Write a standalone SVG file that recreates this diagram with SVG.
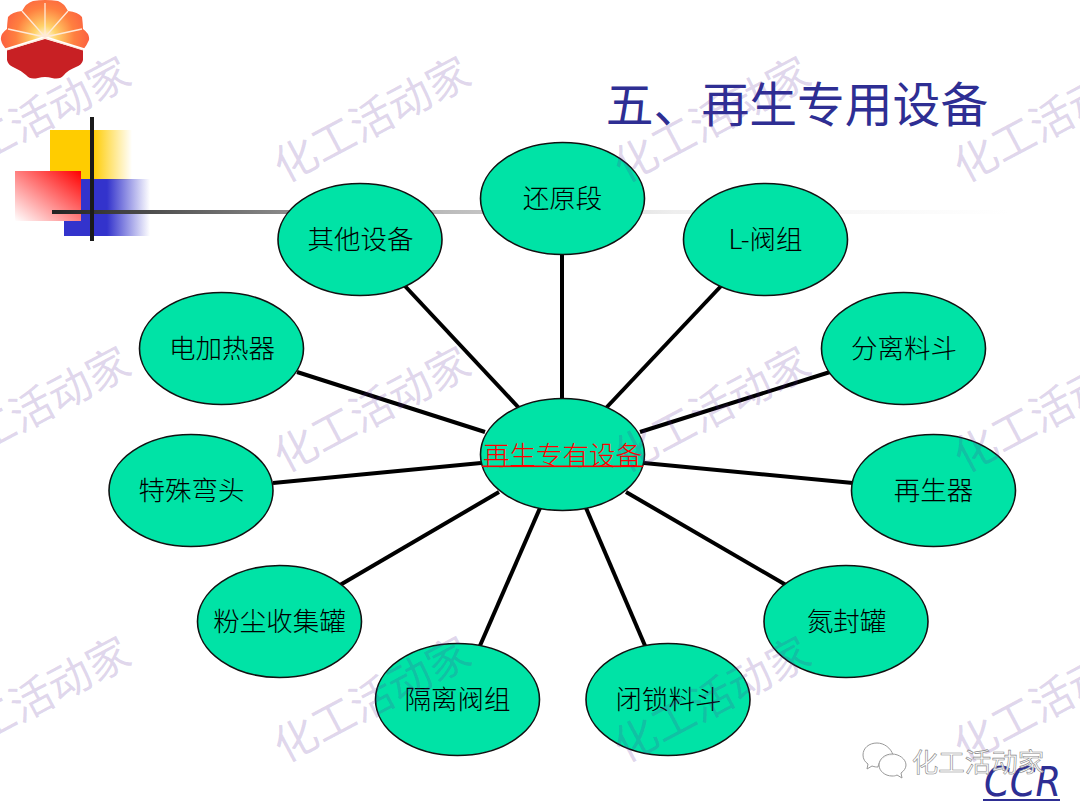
<svg xmlns="http://www.w3.org/2000/svg" width="1080" height="810" viewBox="0 0 1080 810">
<style>
.zh{font-family:"Noto Sans CJK SC","Liberation Serif",serif}
.n ellipse{fill:#00e3a6;stroke:#111;stroke-width:1.6}
.n text{font-family:"Noto Sans CJK SC",sans-serif;font-weight:300;font-size:26.5px;fill:#000;text-anchor:middle}
.c line{stroke:#000;stroke-width:4}
.wm text{font-family:"Noto Sans CJK SC",sans-serif;font-weight:400;font-size:43px;fill:#5d2e9e;fill-opacity:.2;text-anchor:middle}
</style>
<defs>
<linearGradient id="gy"><stop offset="0" stop-color="#ffcc00"/><stop offset=".52" stop-color="#ffcc00"/><stop offset="1" stop-color="#ffcc00" stop-opacity="0"/></linearGradient>
<linearGradient id="gb"><stop offset="0" stop-color="#3333cc"/><stop offset=".5" stop-color="#3333cc"/><stop offset="1" stop-color="#3333cc" stop-opacity="0"/></linearGradient>
<linearGradient id="gr" x1="1" y1="0" x2="0" y2="1"><stop offset="0" stop-color="#ff0000"/><stop offset="1" stop-color="#ffffff"/></linearGradient>
<linearGradient id="gl"><stop offset="0" stop-color="#222"/><stop offset=".08" stop-color="#444"/><stop offset=".24" stop-color="#888"/><stop offset=".41" stop-color="#bbb"/><stop offset=".65" stop-color="#eee"/><stop offset="1" stop-color="#fff"/></linearGradient>
<radialGradient id="sun" gradientUnits="userSpaceOnUse" cx="45" cy="37" r="45"><stop offset="0" stop-color="#fffbe8"/><stop offset=".25" stop-color="#ffd36a"/><stop offset=".65" stop-color="#ff8040"/><stop offset="1" stop-color="#fb5f40"/></radialGradient>
<clipPath id="top"><path d="M0 0H90V50L45 36L0 50Z"/></clipPath>
<clipPath id="bot"><path d="M0 52L45 39L90 52V90H0Z"/></clipPath>
<path id="logo" d="M33 1Q45 -1 58 1Q64 3 68 11Q78 12 82 17Q83 25 83 29Q90 34 89 40Q87 45 83 50L83 60Q82 65 76 67Q68 70 64 75Q60 80 52 78Q45 76 38 78Q30 80 26 75Q20 70 13 67Q8 65 7 60L7 50Q2 45 1 40Q0 34 7 29Q7 25 8 17Q12 12 22 11Q26 3 33 1Z"/>
</defs>

<g id="logo-mark">
<use href="#logo" fill="url(#sun)" clip-path="url(#top)"/>
<use href="#logo" fill="#c82024" clip-path="url(#bot)"/>
<g stroke="#ffe9d8" stroke-width="1.3" fill="none">
<path d="M45 37V3M45 37L22 11M45 37L68 11M45 37L8 29M45 37L82 29M45 38L7 50M45 38L83 50"/>
</g>
</g>

<g id="decor">
<rect x="50" y="130" width="82" height="50" fill="url(#gy)"/>
<rect x="64" y="179" width="86" height="57" fill="url(#gb)"/>
<rect x="15" y="171" width="66" height="50" fill="url(#gr)"/>
<rect x="52" y="210" width="958" height="4" fill="url(#gl)"/>
<rect x="90" y="117" width="4" height="124" fill="#1a1a1a"/>
</g>

<text id="title" class="zh" x="797" y="122" font-size="47.8" fill="#2e2e93" text-anchor="middle">五、再生专用设备</text>

<g id="connectors" class="c">
<line x1="562" y1="398" x2="562" y2="255"/>
<line x1="606" y1="408" x2="722" y2="285"/>
<line x1="640" y1="432" x2="830" y2="372"/>
<line x1="644" y1="463" x2="853" y2="483"/>
<line x1="626" y1="492" x2="786" y2="585"/>
<line x1="586" y1="508" x2="646" y2="648"/>
<line x1="540" y1="508" x2="479" y2="648"/>
<line x1="499" y1="492" x2="340" y2="585"/>
<line x1="481" y1="463" x2="273" y2="483"/>
<line x1="485" y1="432" x2="297" y2="372"/>
<line x1="519" y1="408" x2="404" y2="285"/>
</g>

<g id="center" class="n">
<ellipse cx="562.5" cy="454.5" rx="82" ry="56"/>
<text x="562.5" y="465" style="fill:#f00">再生专有设备</text>
<rect x="482" y="465.5" width="161" height="1.6" fill="#f00"/>
</g>
<g id="n1" class="n"><ellipse cx="562.5" cy="198.5" rx="82" ry="56"/><text x="562.5" y="208">还原段</text></g>
<g id="n2" class="n"><ellipse cx="765.5" cy="239.5" rx="82" ry="56"/><text x="765.5" y="249">L-阀组</text></g>
<g id="n3" class="n"><ellipse cx="903.5" cy="348.5" rx="82" ry="56"/><text x="904" y="358">分离料斗</text></g>
<g id="n4" class="n"><ellipse cx="933.5" cy="490.5" rx="82" ry="56"/><text x="933.5" y="500">再生器</text></g>
<g id="n5" class="n"><ellipse cx="846" cy="621.5" rx="82" ry="56"/><text x="846.5" y="631">氮封罐</text></g>
<g id="n6" class="n"><ellipse cx="668" cy="699.5" rx="82" ry="56"/><text x="668.5" y="709">闭锁料斗</text></g>
<g id="n7" class="n"><ellipse cx="457.5" cy="699.5" rx="82" ry="56"/><text x="457.5" y="709">隔离阀组</text></g>
<g id="n8" class="n"><ellipse cx="279.5" cy="621.5" rx="82" ry="56"/><text x="279.5" y="631">粉尘收集罐</text></g>
<g id="n9" class="n"><ellipse cx="191" cy="490.5" rx="82" ry="56"/><text x="191.5" y="500">特殊弯头</text></g>
<g id="n10" class="n"><ellipse cx="221.5" cy="348.5" rx="82" ry="56"/><text x="222" y="358">电加热器</text></g>
<g id="n11" class="n"><ellipse cx="360" cy="239.5" rx="82" ry="56"/><text x="360.5" y="249">其他设备</text></g>

<g id="watermarks" class="wm">
<text transform="translate(39 133) rotate(-28)">化工活动家</text>
<text transform="translate(379 133) rotate(-28)">化工活动家</text>
<text transform="translate(719 133) rotate(-28)">化工活动家</text>
<text transform="translate(1059 133) rotate(-28)">化工活动家</text>
<text transform="translate(39 423) rotate(-28)">化工活动家</text>
<text transform="translate(379 423) rotate(-28)">化工活动家</text>
<text transform="translate(719 423) rotate(-28)">化工活动家</text>
<text transform="translate(1059 423) rotate(-28)">化工活动家</text>
<text transform="translate(39 713) rotate(-28)">化工活动家</text>
<text transform="translate(379 713) rotate(-28)">化工活动家</text>
<text transform="translate(719 713) rotate(-28)">化工活动家</text>
<text transform="translate(1059 713) rotate(-28)">化工活动家</text>
</g>

<g id="ccr">
<text x="984" y="796" font-family="'DejaVu Sans',sans-serif" font-style="italic" font-size="41" fill="#2e2e93" textLength="77" lengthAdjust="spacingAndGlyphs">CCR</text>
<rect x="983" y="799" width="77" height="2" fill="#2e2e93"/>
</g>

<g id="wechat-mark" fill="#fff" fill-opacity=".85" stroke="#999" stroke-width="1">
<path d="M877 743c-8 0-14 5-14 12 0 4 2 7 5 9l-1 5 5-3c3 1 4 1 6 1 1-7 7-12 15-12-2-7-9-12-16-12z"/>
<path d="M892 754c-7 0-13 5-13 11s6 11 13 11c2 0 3 0 5-1l5 3-1-5c3-2 5-5 5-8 0-6-7-11-14-11z"/>
<text x="978" y="772" font-family="'Noto Sans CJK SC',sans-serif" font-size="26.5" fill="#fff" stroke="#888" stroke-width=".6" text-anchor="middle">化工活动家</text>
</g>
</svg>
